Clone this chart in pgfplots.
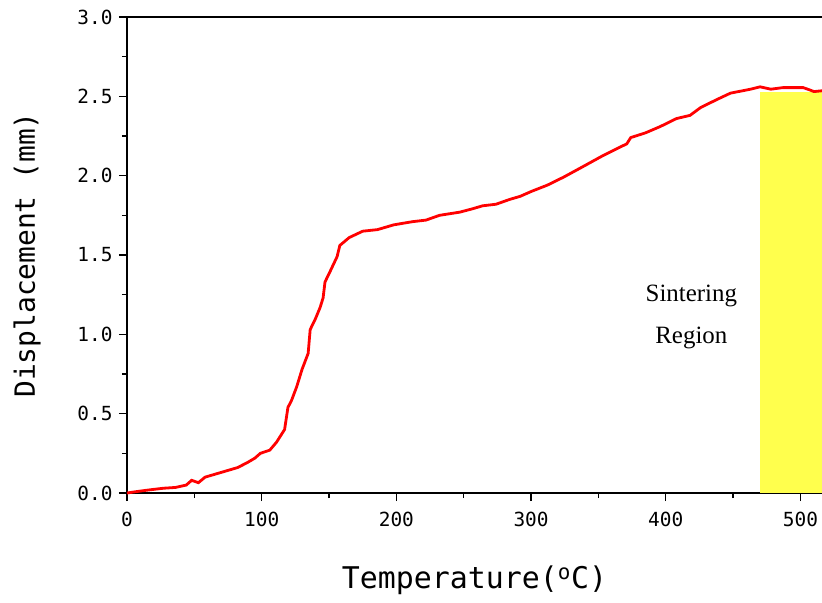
\documentclass[border=0pt]{standalone}
\usepackage{pgfplots}
\pgfplotsset{compat=1.18}
\usepackage{fontspec}
\newfontfamily\gfont{DejaVu Sans Mono}
\newfontfamily\sfont{Liberation Serif}
\definecolor{sinter}{RGB}{255,255,77}

\begin{document}
\begin{tikzpicture}
\begin{axis}[
    scale only axis,
    width=695bp, height=476bp,
    xmin=0, xmax=516,
    ymin=0, ymax=3,
    clip=false,
    axis x line*=bottom,
    axis y line*=left,
    axis line style={line width=1.6bp},
    xtick={0,100,...,500},
    minor xtick={50,150,...,450},
    ytick={0,0.5,...,3},
    minor ytick={0.25,0.75,...,2.75},
    tick align=outside,
    major tick length=8bp,
    minor tick length=5bp,
    every tick/.style={black, line width=1.3bp},
    /pgf/number format/assume math mode=true,
    tick label style={font=\gfont\fontsize{19.5}{22}\selectfont},
    xticklabel style={yshift=-8bp},
    yticklabel style={xshift=-3bp, /pgf/number format/fixed, /pgf/number format/fixed zerofill,
        /pgf/number format/precision=1},
    xlabel={Temperature(\textsuperscript{o}C)},
    ylabel={Displacement (mm)},
    every axis x label/.style={at={(rel axis cs:0.5,0)}, anchor=center, yshift=-87bp,
        font=\gfont\fontsize{30}{34}\selectfont},
    every axis y label/.style={at={(rel axis cs:0,0.5)}, xshift=-100bp, rotate=90, anchor=center,
        font=\gfont\fontsize{28}{32}\selectfont},
]
% sintering region
\addplot[draw=none, fill=sinter] coordinates {
    (470,0) (470,2.53) (516,2.53) (516,0)
} -- cycle;

\addplot[red, line width=2.8bp, mark=none] coordinates {
    (0,0) (8,0.01) (17,0.02) (27,0.03) (36,0.035) (44,0.05) (48,0.08) (53,0.065)
    (58,0.10) (66,0.12) (74,0.14) (82,0.16) (89,0.19) (95,0.22) (99,0.25)
    (106,0.27) (111,0.32) (117,0.40) (119.5,0.54) (122,0.58) (126,0.67)
    (130,0.78) (134.5,0.88) (136,1.03) (140,1.10) (143.4,1.17) (145.6,1.23)
    (147,1.33) (151,1.40) (156,1.49) (158,1.56) (165,1.61) (175,1.65)
    (186,1.66) (198,1.69) (212,1.71) (222,1.72) (232,1.75) (247,1.77)
    (256,1.79) (264,1.81) (274,1.82) (284,1.85) (292,1.87) (300,1.90)
    (312,1.94) (324,1.99) (337,2.05) (352,2.12) (366,2.18) (371,2.20)
    (374,2.24) (385,2.27) (396,2.31) (408,2.36) (418,2.38) (426,2.43)
    (438,2.48) (448,2.52) (463,2.545) (470,2.56) (478,2.545) (487,2.555)
    (502,2.555) (507,2.54) (510,2.53) (516,2.535)
};

\draw[line width=1.6bp] (rel axis cs:0,1) -- (rel axis cs:1,1);
\node[align=center, font=\sfont\fontsize{25}{42}\selectfont] at (axis cs:419,1.11)
    {Sintering\\Region};

\coordinate (sw) at (rel axis cs:0,0);
\coordinate (ne) at (rel axis cs:1,1);
\end{axis}
\pgfresetboundingbox
\path ([shift={(-127bp,-110bp)}]sw) rectangle ([shift={(0bp,17bp)}]ne);
\end{tikzpicture}
\end{document}
